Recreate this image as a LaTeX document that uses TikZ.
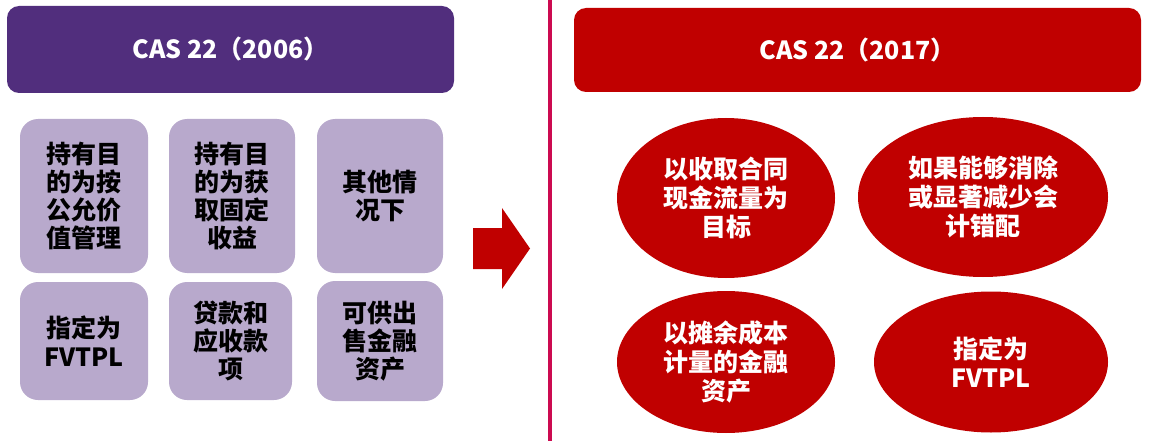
\documentclass[tikz,border=0pt]{standalone}
\usepackage{fontspec}
\setmainfont{Noto Sans CJK SC}
\usetikzlibrary{shapes.geometric}
\definecolor{hdrpurple}{HTML}{512E7D}
\definecolor{boxlilac}{HTML}{B8A9CC}
\definecolor{darkred}{HTML}{C00000}
\definecolor{divred}{HTML}{CC0A50}
\tikzset{
  header/.style={rectangle, rounded corners=12pt, inner sep=0pt, text=white,
    font=\bfseries\fontsize{25}{30}\selectfont},
  oldbox/.style={rectangle, rounded corners=18pt, fill=boxlilac, inner sep=0pt,
    text=black, align=center, font=\bfseries\fontsize{25}{28.3}\selectfont},
  newell/.style={ellipse, fill=darkred, inner sep=0pt, text=white, align=center,
    font=\bfseries\fontsize{25}{29}\selectfont}
}
\begin{document}
\begin{tikzpicture}[x=1pt,y=-1pt]
\useasboundingbox (0,0) rectangle (1159,441);
% divider
\draw[divred, line width=3.5pt] (550,0) -- (550,441);
% headers
\node[header, fill=hdrpurple, minimum width=447pt, minimum height=87pt] (h1) at (230.5,49.5) {CAS 22（2006）};
\node[header, fill=darkred, minimum width=567pt, minimum height=84pt] (h2) at (857.5,50) {CAS 22（2017）};
% old categories
\node[oldbox, minimum width=128pt, minimum height=154pt] (b1) at (84,196) {持有目\\的为按\\公允价\\值管理};
\node[oldbox, minimum width=126pt, minimum height=154pt] (b2) at (232,196) {持有目\\的为获\\取固定\\收益};
\node[oldbox, minimum width=126pt, minimum height=154pt] (b3) at (380,196) {其他情\\况下};
\node[oldbox, minimum width=128pt, minimum height=118pt] (b4) at (84,341) {指定为\\FVTPL};
\node[oldbox, minimum width=123pt, minimum height=118pt] (b5) at (230.5,341) {贷款和\\应收款\\项};
\node[oldbox, minimum width=126pt, minimum height=120pt] (b6) at (380,341) {可供出\\售金融\\资产};
% arrow
\fill[darkred] (473,228) -- (502,228) -- (502,208) -- (530,248.5) -- (502,289) -- (502,269) -- (473,269) -- cycle;
% new categories
\node[newell, minimum width=218pt, minimum height=160pt] (e1) at (726,198) {以收取合同\\现金流量为\\目标};
\node[newell, minimum width=250pt, minimum height=160pt] (e2) at (983,197) {如果能够消除\\或显著减少会\\计错配};
\node[newell, minimum width=218pt, minimum height=142pt] (e3) at (726,362) {以摊余成本\\计量的金融\\资产};
\node[newell, minimum width=234pt, minimum height=141pt] (e4) at (991,362) {指定为\\FVTPL};
\end{tikzpicture}
\end{document}
